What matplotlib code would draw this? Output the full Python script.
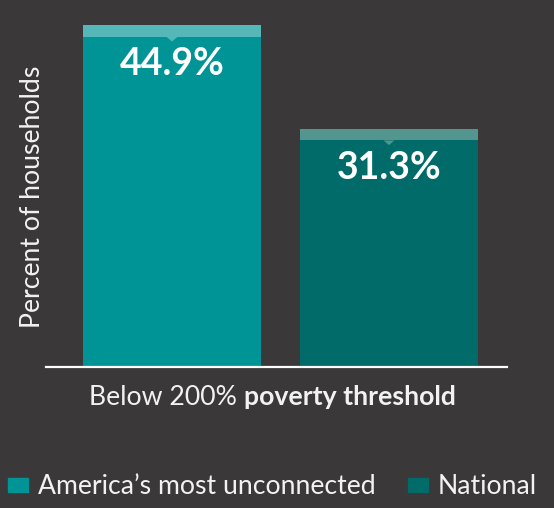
import matplotlib.pyplot as plt
from matplotlib.patches import Patch, Polygon

# data
groups = ["America\u2019s most unconnected", "National"]
values = [44.9, 31.3]
labels = ["44.9%", "31.3%"]
bar_colors = ["#009497", "#006b68"]
cap_colors = ["#55b7b8", "#52968f"]

bg = "#3a3839"
fg = "#f2f2f2"

plt.rcParams['font.family'] = ['Lato', 'DejaVu Sans']

fig = plt.figure(figsize=(5.54, 5.08), dpi=100, facecolor=bg)
ax = fig.add_axes([46/554, 1 - 367/508, 461/554, 367/508])
ax.set_facecolor(bg)

x = [0, 1]
w = 0.82
cap = 1.55  # height of the light strip on top, data units
ax.bar(x, values, width=w, color=bar_colors, zorder=2)
ax.bar(x, [cap]*2, width=w, bottom=[v - cap for v in values], color=cap_colors, zorder=3)

# little notch under each strip + value label
for i, (xi, v, c) in enumerate(zip(x, values, cap_colors)):
    tri = Polygon([[xi - 0.025, v - cap], [xi + 0.025, v - cap], [xi, v - cap - 0.6]],
                  closed=True, color=c, lw=0, zorder=3)
    ax.add_patch(tri)
    ax.annotate(labels[i], (xi, v), xytext=(0, -28), textcoords='offset points',
                ha='center', va='center', color='white', fontsize=27, fontweight='bold', zorder=4)

ax.set_xlim(-0.581, 1.544)
ax.set_ylim(0, 48.2)
for s in ['top', 'right', 'left']:
    ax.spines[s].set_visible(False)
ax.spines['bottom'].set_color('white')
ax.spines['bottom'].set_linewidth(1.6)
ax.set_xticks([])
ax.set_yticks([])

fs = 19.2
fig.text(33/554, 1 - 197/508, "Percent of households", rotation=90, ha='center', va='center',
         color=fg, fontsize=fs)

# x label: regular + bold part, same baseline
yb = 1 - 405/508
t1 = fig.text(0, yb, "Below 200%", ha='left', va='baseline', color=fg, fontsize=fs)
t2 = fig.text(0, yb, "poverty threshold", ha='left', va='baseline', color=fg,
              fontsize=fs, fontweight='bold')
fig.canvas.draw()
r = fig.canvas.get_renderer()
w1 = t1.get_window_extent(r).width
w2 = t2.get_window_extent(r).width
gap = 8
x0 = 272.5 - (w1 + gap + w2) / 2
t1.set_x(x0 / 554)
t2.set_x((x0 + w1 + gap) / 554)

handles = [Patch(color=c) for c in bar_colors]
fig.legend(handles, groups, loc='center', bbox_to_anchor=(0.492, 1 - 487/508), ncol=2,
           frameon=False, fontsize=fs, labelcolor=fg, handlelength=0.75, handleheight=0.45,
           handletextpad=0.37, columnspacing=1.2, borderpad=0, borderaxespad=0)

fig.savefig("out.png", dpi=100, facecolor=bg)
